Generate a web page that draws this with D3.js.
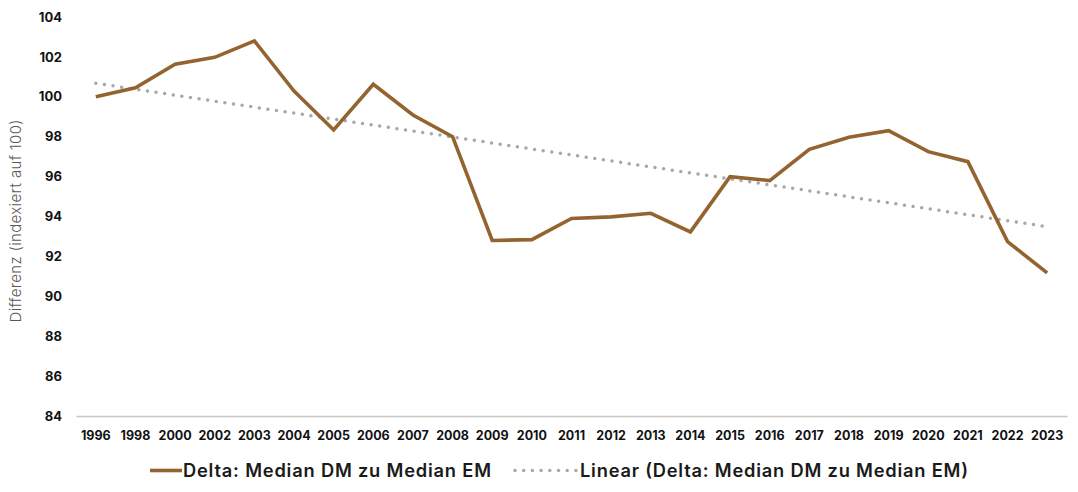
<!DOCTYPE html>
<html>
<head>
<meta charset="utf-8">
<script src="https://cdn.jsdelivr.net/npm/d3@7"></script>
<style>
  body { margin: 0; background: #fff; }
  #container { width: 1078px; height: 492px; }
  text { font-family: Inter, "Open Sans", sans-serif; }
</style>
</head>
<body>
<div id="container"></div>
<script>
// values
const years = ["1996","1998","2000","2002","2003","2004","2005","2006","2007","2008","2009","2010",
               "2011","2012","2013","2014","2015","2016","2017","2018","2019","2020","2021","2022","2023"];
const delta = [100.0,100.45,101.63,101.98,102.8,100.29,98.34,100.63,99.09,98.0,92.8,92.84,
               93.9,93.98,94.16,93.23,96.0,95.8,97.37,97.97,98.3,97.25,96.75,92.74,91.17];
const trendYears = ["1996","2023"];
const trendValues = [100.68, 93.49];
const yTicks = [84,86,88,90,92,94,96,98,100,102,104];
const seriesNames = ["Delta: Median DM zu Median EM","Linear (Delta: Median DM zu Median EM)"];

const w = 1078, h = 492;
const padLeft = 76, padRight = 1067, padTop = 17, padBottom = 416;

const svg = d3.select("#container").append("svg")
  .attr("width", w).attr("height", h);

const xScale = d3.scaleBand().domain(years).range([padLeft, padRight]);
const yScale = d3.scaleLinear().domain([84, 104]).range([padBottom, padTop]);
const cx = (d) => xScale(d) + xScale.bandwidth() / 2;

// y axis labels
const yAxis = d3.axisLeft(yScale).tickValues(yTicks).tickSize(0).tickPadding(0);
const yg = svg.append("g").attr("transform", "translate(62,0)").call(yAxis);
yg.select(".domain").remove();
yg.selectAll("text").attr("font-size", 13).attr("font-weight", 700).attr("fill", "#111");

// x axis
const xAxis = d3.axisBottom(xScale).tickSize(0).tickPadding(15);
const xg = svg.append("g").attr("transform", "translate(0," + padBottom + ")").call(xAxis);
xg.select(".domain").attr("stroke", "#c9c5bf").attr("stroke-width", 1.5);
xg.selectAll("text").attr("font-size", 12.5).attr("font-weight", 700).attr("fill", "#111");

// axis title
svg.append("text")
   .attr("transform", "translate(21,221) rotate(-90)")
   .attr("text-anchor", "middle")
   .attr("font-size", 15)
   .attr("font-weight", 300)
   .attr("fill", "#595959")
   .attr("textLength", 203)
   .attr("lengthAdjust", "spacing")
   .text("Differenz (indexiert auf 100)");

// trend line
const line = d3.line().x((d) => cx(d[0])).y((d) => yScale(d[1]));
svg.append("path")
   .datum(trendYears.map((y, i) => [y, trendValues[i]]))
   .attr("d", line)
   .attr("fill", "none")
   .attr("stroke", "#aaa7a3")
   .attr("stroke-width", 3.5)
   .attr("stroke-linecap", "round")
   .attr("stroke-dasharray", "0 8.7");

// main series
svg.append("path")
   .datum(years.map((y, i) => [y, delta[i]]))
   .attr("d", line)
   .attr("fill", "none")
   .attr("stroke", "#93642f")
   .attr("stroke-width", 3.6)
   .attr("stroke-linejoin", "miter");

// legend
const lg = svg.append("g").attr("transform", "translate(0,470.5)");
lg.append("line").attr("x1", 150).attr("x2", 182).attr("y1", 0).attr("y2", 0)
  .attr("stroke", "#93642f").attr("stroke-width", 3.6);
lg.append("text").attr("x", 183).attr("y", 6.8)
  .attr("font-size", 18.3).attr("font-weight", 600).attr("fill", "#1a1a1a")
  .attr("textLength", 308).attr("lengthAdjust", "spacing")
  .text(seriesNames[0]);
lg.append("line").attr("x1", 515).attr("x2", 578).attr("y1", 0).attr("y2", 0)
  .attr("stroke", "#aaa7a3").attr("stroke-width", 3.5)
  .attr("stroke-linecap", "round").attr("stroke-dasharray", "0 8.7");
lg.append("text").attr("x", 580).attr("y", 6.8)
  .attr("font-size", 18.3).attr("font-weight", 600).attr("fill", "#1a1a1a")
  .attr("textLength", 388).attr("lengthAdjust", "spacing")
  .text(seriesNames[1]);
</script>
</body>
</html>
